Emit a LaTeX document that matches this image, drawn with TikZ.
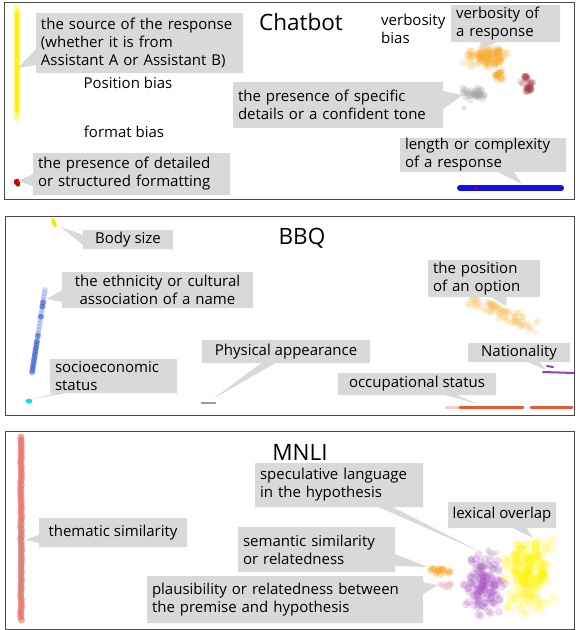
\documentclass[tikz,border=0pt]{standalone}
\usepackage{fontspec}
\setmainfont{Open Sans}
\usetikzlibrary{shapes.callouts,calc}
\definecolor{boxg}{HTML}{D9D9D9}
\definecolor{frameg}{HTML}{4A4A4A}
\definecolor{cyel}{HTML}{FFF200}
\definecolor{corange}{HTML}{F5A623}
\definecolor{cdred}{HTML}{A8404A}
\definecolor{cgray}{HTML}{9A9A9A}
\definecolor{cblue}{HTML}{1010E8}
\definecolor{croyal}{HTML}{3A5FD0}
\definecolor{ccyan}{HTML}{00E0F0}
\definecolor{cpurple}{HTML}{9440B4}
\definecolor{cred}{HTML}{EE5533}
\definecolor{csalmon}{HTML}{E2584F}
\definecolor{cmpurple}{HTML}{A855C0}
\definecolor{cpink}{HTML}{F4C0CC}
\newcommand{\myscatter}[8]{\foreach \i in {1,...,#2}{\fill[#1,opacity=#8] ({#3+#5*(rand+rand)/2},{#4+#6*(rand+rand)/2}) circle (#7);}}
\begin{document}
\begin{tikzpicture}[x=1pt,y=-1pt,
  frame/.style={draw=frameg, line width=0.9pt},
  cb/.style={rectangle callout, fill=boxg, inner sep=0pt, callout pointer width=14pt,
    font=\fontsize{15}{18}\selectfont},
  plain/.style={inner sep=0pt, font=\fontsize{15}{18}\selectfont},
  title/.style={inner sep=0pt, font=\fontsize{22.5}{26}\selectfont}]
\useasboundingbox (0,0) rectangle (576,630);
\pgfmathsetseed{7}
% frames
\draw[frame] (4,2) rectangle (574,199);
\draw[frame] (5,216) rectangle (574,415);
\draw[frame] (5,431) rectangle (574,629);

% ---------------- Chatbot ----------------
\node[title] (tchat) at (301,22) {Chatbot};
% yellow bar
\foreach \y in {7,9,...,119}{\fill[cyel,opacity=0.25] (17,\y) circle (3);}
\foreach \y in {13,15,...,111}{\fill[cyel,opacity=0.6] (17,\y) circle (2.6);}
% red dot
\fill[green!45!black] (18,184.5) circle (2.2);
\fill[red!85!black] (17,182) circle (3.3);
% orange clusters
\myscatter{corange}{90}{486}{57}{26}{11}{4}{0.2}
\myscatter{corange}{18}{499}{75}{7}{6}{3.5}{0.25}
% dark red
\myscatter{cdred}{25}{526}{84}{8}{11}{3.5}{0.22}
\myscatter{cdred}{12}{528}{89}{7}{4}{3.5}{0.3}
% gray
\myscatter{cgray}{40}{475}{94}{14}{8}{3.5}{0.2}
\fill[cgray,opacity=0.3] (464,108) circle (2.5);
% blue bar
\draw[cblue, line width=6pt, line cap=round] (460,188) -- (561,188);
\fill[purple,opacity=0.4] (476,189) circle (2);

\coordinate (p1) at (18,68);
\coordinate (p2) at (18,181);
\coordinate (p3) at (481,50);
\coordinate (p4) at (463,95);
\coordinate (p5) at (522,184);

\node[cb, minimum width=207pt, minimum height=60pt, text width=197pt, align=left,
  callout absolute pointer={(p1)}, callout pointer width=16pt] (b1) at (139.5,43)
  {the source of the response\\(whether it is from\\Assistant A or Assistant B)};
\node[plain] (posb) at (128,83) {Position bias};
\node[plain] (fmtb) at (124,132) {format bias};
\node[cb, minimum width=197pt, minimum height=42pt, text width=187pt, align=left,
  callout absolute pointer={(p2)}, callout pointer width=12pt] (b2) at (131.5,174)
  {the presence of detailed\\or structured formatting};
\node[plain, anchor=west, align=left] (verb) at (381,29) {verbosity\\bias};
\node[cb, minimum width=109pt, minimum height=37pt, text width=99pt, align=left,
  callout absolute pointer={(p3)}, callout pointer width=16pt] (b3) at (505.5,23.5)
  {verbosity of\\a response};
\node[cb, minimum width=210pt, minimum height=46pt, text width=200pt, align=left,
  callout absolute pointer={(p4)}, callout pointer width=18pt] (b4) at (338,105)
  {the presence of specific\\details or a confident tone};
\node[cb, minimum width=166pt, minimum height=34pt, text width=156pt, align=left,
  callout absolute pointer={(p5)}, callout pointer width=16pt] (b5) at (483,155)
  {length or complexity\\of a response};

% ---------------- BBQ ----------------
\node[title] (tbbq) at (302,238) {BBQ};
\fill[cyel!90!orange, rotate around={20:(54,223)}] (54,223) ellipse (2.2 and 5);
\foreach \t in {0,0.04,...,1}{\fill[croyal,opacity=0.25] ({45-13*\t},{290+83*\t}) circle (3);}
\foreach \t in {0.15,0.2,0.32,0.55,0.62,0.66,0.7,0.74,0.78,0.82,0.86,0.9,0.94,0.98}{\fill[croyal,opacity=0.6] ({45-13*\t},{290+83*\t}) circle (3);}
\fill[ccyan] (29,401) ellipse (3.2 and 2.4);
\draw[cgray, line width=1.8pt] (201,403) -- (216,403);
\foreach \i in {1,...,90}{\pgfmathsetmacro{\tt}{rnd}\fill[corange!75,opacity=0.2] ({471+64*\tt+5*rand},{300+27*\tt+6*rand}) circle (3.5);}
\draw[cpurple, line width=2pt, line cap=round] (547,366) -- (553,367);
\draw[cpurple, line width=2pt, line cap=round] (543,372) -- (574,373);
\draw[cred!30, line width=3pt] (445,407) -- (460,407);
\draw[cred, line width=3pt, line cap=round] (460,407) -- (523,407);
\draw[cred, line width=3pt, line cap=round] (531,407) -- (572,407);

\coordinate (q1) at (61,227);
\coordinate (q2) at (47,299);
\coordinate (q3) at (31,399);
\coordinate (q4) at (213,399);
\coordinate (q5) at (506,306);
\coordinate (q6) at (546,370);
\coordinate (q7) at (478,404);

\node[cb, minimum width=90pt, minimum height=19pt, align=center,
  callout absolute pointer={(q1)}, callout pointer width=10pt] (c1) at (128,239.5) {Body size};
\node[cb, minimum width=191pt, minimum height=36pt, text width=182pt, align=center,
  callout absolute pointer={(q2)}, callout pointer width=12pt] (c2) at (157.5,290)
  {the ethnicity or cultural\\association of a name};
\node[cb, minimum width=127pt, minimum height=34pt, text width=117pt, align=left,
  callout absolute pointer={(q3)}, callout pointer width=12pt] (c3) at (113.5,376)
  {socioeconomic\\status};
\node[cb, minimum width=168pt, minimum height=23pt, align=center,
  callout absolute pointer={(q4)}, callout pointer width=14pt] (c4) at (286,351.5) {Physical appearance};
\node[cb, minimum width=112pt, minimum height=37pt, text width=102pt, align=left,
  callout absolute pointer={(q5)}, callout pointer width=16pt] (c5) at (484,278.5)
  {the position\\of an option};
\node[cb, minimum width=102pt, minimum height=19pt, align=center,
  callout absolute pointer={(q6)}, callout pointer width=12pt] (c6) at (519,352.5) {Nationality};
\node[cb, minimum width=158pt, minimum height=22pt, align=center,
  callout absolute pointer={(q7)}, callout pointer width=12pt] (c7) at (417,384) {occupational status};

% ---------------- MNLI ----------------
\node[title] (tmnli) at (300,452) {MNLI};
\foreach \y in {437,440,...,620}{\fill[csalmon,opacity=0.5] ({21+0.5*rand},\y) circle (3.6);}
\foreach \y in {520,526,...,600}{\fill[cgray,opacity=0.25] (21,\y) circle (3);}
\myscatter{cyel}{170}{528}{577}{28}{42}{4.5}{0.22}
\myscatter{cmpurple}{140}{484}{585}{22}{34}{4}{0.22}
\myscatter{cgray!60}{8}{491}{553}{6}{4}{3}{0.3}
\myscatter{corange}{18}{440}{570}{14}{6}{3.5}{0.35}
\myscatter{cpink}{12}{446}{585}{10}{4}{3}{0.5}

\coordinate (r1) at (25,540);
\coordinate (r2) at (483,553);
\coordinate (r3) at (533,538);
\coordinate (r4) at (428,567);
\coordinate (r5) at (438,585);

\node[cb, minimum width=148pt, minimum height=29pt, align=center,
  callout absolute pointer={(r1)}, callout pointer width=8pt] (d1) at (113,532.5) {thematic similarity};
\node[cb, minimum width=168pt, minimum height=44pt, text width=158pt, align=left,
  callout absolute pointer={(r2)}, callout pointer width=14pt] (d2) at (339,485)
  {speculative language\\in the hypothesis};
\node[cb, minimum width=108pt, minimum height=26pt, align=center,
  callout absolute pointer={(r3)}, callout pointer width=14pt] (d3) at (502,515) {lexical overlap};
\node[cb, minimum width=157pt, minimum height=45pt, text width=147pt, align=left,
  callout absolute pointer={(r4)}, callout pointer width=12pt] (d4) at (316.5,549.5)
  {semantic similarity\\or relatedness};
\node[cb, minimum width=276pt, minimum height=47pt, text width=266pt, align=left,
  callout absolute pointer={(r5)}, callout pointer width=12pt] (d5) at (285,599.5)
  {plausibility or relatedness between\\the premise and hypothesis};
\end{tikzpicture}
\end{document}
